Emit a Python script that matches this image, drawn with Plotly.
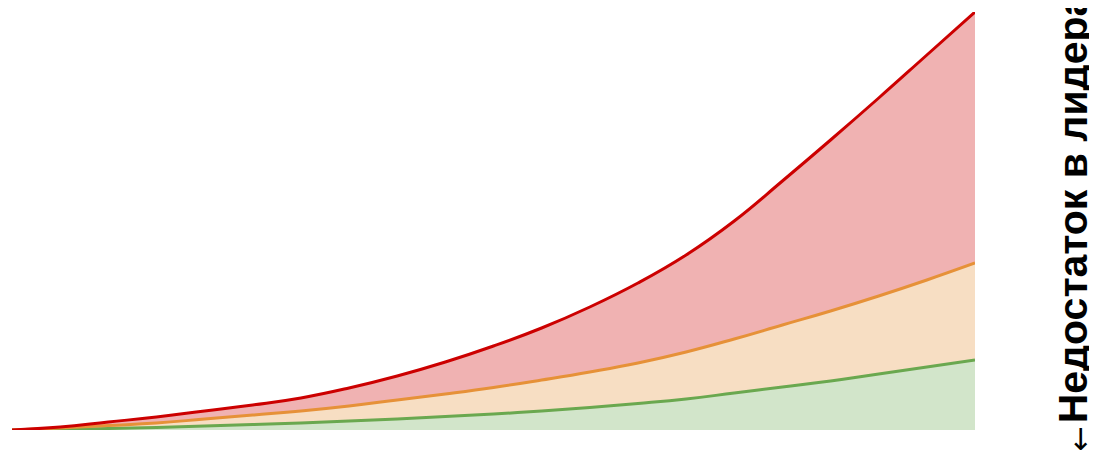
import plotly.graph_objects as go

x = [0, 5, 10, 15, 20, 25, 30, 35, 40, 45, 50, 55, 60, 65, 70, 75, 80, 85, 90, 95, 100]
green = [0, 0.7, 1.5, 2.5, 4, 5.5, 7, 9, 11, 13.5, 16, 19, 22.5, 26.5, 31, 37, 43, 49, 56, 63, 70]
orange = [0, 2, 4.5, 7, 11, 15, 19, 24, 30, 36, 42.5, 50, 58, 67, 78, 91, 105, 119, 134, 150, 167]
red = [0, 3, 8, 13, 19, 25, 32, 42, 54, 68, 84, 102, 123, 147, 175, 209, 249, 290, 332, 375, 418]

series = [
    ("green", green, "#6AA84F", "rgba(106,168,79,0.3)", "tozeroy"),
    ("orange", orange, "#E69138", "rgba(230,145,56,0.3)", "tonexty"),
    ("red", red, "#CC0000", "rgba(204,0,0,0.3)", "tonexty"),
]

fig = go.Figure()
for name, ys, lc, fc, fill in series:
    fig.add_trace(go.Scatter(
        x=x, y=ys, mode="lines", name=name,
        line=dict(color=lc, width=3, shape="spline", smoothing=1.3),
        fill=fill, fillcolor=fc, showlegend=False, hoverinfo="skip",
    ))

fig.update_layout(
    width=1097, height=455,
    margin=dict(l=4, r=130, t=4, b=33),
    paper_bgcolor="white", plot_bgcolor="white",
    xaxis=dict(visible=False, range=[0, 100]),
    yaxis=dict(visible=False, range=[0, 418]),
    annotations=[
        dict(
            text="<b>Недостаток в лидерах</b>",
            xref="paper", yref="paper", x=1.1018, y=0.01,
            xanchor="center", yanchor="bottom", textangle=-90, showarrow=False,
            font=dict(family="Liberation Sans, Arial, sans-serif", size=41, color="black"),
        ),
        dict(
            text="←",
            xref="paper", yref="paper", x=1.108, y=-0.057,
            xanchor="center", yanchor="bottom", textangle=-90, showarrow=False,
            font=dict(family="DejaVu Sans, sans-serif", size=30, color="black"),
        ),
    ],
)
fig.write_html("out.html")
